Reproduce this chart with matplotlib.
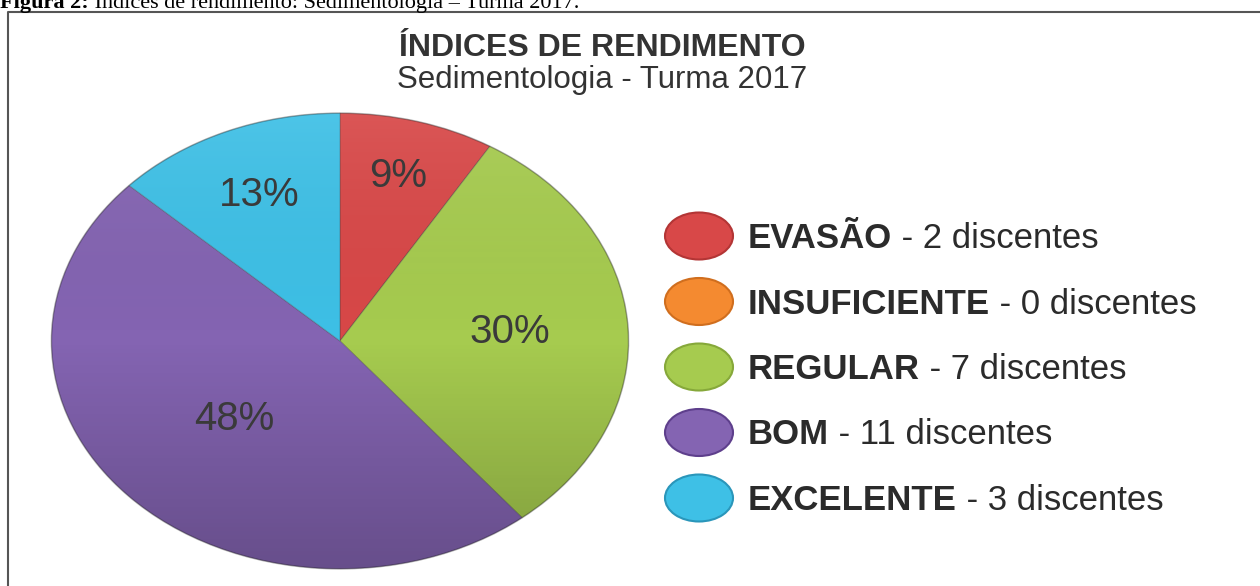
import numpy as np
import matplotlib
matplotlib.use("Agg")
from matplotlib import pyplot as plt
from matplotlib.patches import Ellipse, Circle
from matplotlib.colors import LinearSegmentedColormap

# dados
categorias = ["EVASÃO", "INSUFICIENTE", "REGULAR", "BOM", "EXCELENTE"]
discentes = [2, 0, 7, 11, 3]
cores = ["#D84848", "#F48A30", "#A6CB4F", "#8464B2", "#3EC0E6"]
bordas = ["#B33535", "#D06E1E", "#86A83A", "#5E3F8C", "#2A96BA"]

titulo = "ÍNDICES DE RENDIMENTO"
subtitulo = "Sedimentologia - Turma 2017"
figura_negrito = "Figura 2:"
figura_texto = " Índices de rendimento: Sedimentologia – Turma 2017."

plt.rcParams['font.family'] = ['Liberation Sans', 'DejaVu Sans']
W, H = 1260, 586
fig = plt.figure(figsize=(12.6, 5.86), dpi=100)

# eixo de fundo em pixels (textos, legenda, moldura)
bg = fig.add_axes([0, 0, 1, 1])
bg.set_xlim(0, W)
bg.set_ylim(H, 0)
bg.axis('off')

# pizza
ax = fig.add_axes([50 / W, 16 / H, 580 / W, 458 / H])
wedges, _, autotexts = ax.pie(
    discentes, colors=cores, startangle=90, counterclock=False, radius=1,
    autopct=lambda p: f'{p:.0f}%' if p > 0 else '', pctdistance=0.6,
    wedgeprops=dict(linewidth=0.8, edgecolor=(0.25, 0.25, 0.25, 0.3)),
    textprops=dict(fontsize=29, color='#3a3a3a'))

# distancia dos rotulos ao centro
dist_rotulo = [0.75, 0.6, 0.59, 0.50, 0.70]
for t, d in zip(autotexts, dist_rotulo):
    x, y = t.get_position()
    t.set_position((x * d / 0.6, y * d / 0.6))
    t.set_zorder(5)

# sombreado vertical
grad = np.linspace(0, 1, 256).reshape(-1, 1)
sombra = LinearSegmentedColormap.from_list('sombra', [(1, 1, 1, 0.08), (0, 0, 0, 0.0), (0, 0, 0, 0.22)])
im = ax.imshow(grad, extent=(-1, 1, -1, 1), origin='upper', cmap=sombra, aspect='auto', zorder=2)
im.set_clip_path(Circle((0, 0), 1, transform=ax.transData))
ax.add_patch(Circle((0, 0), 1, fill=False, edgecolor=(0, 0, 0, 0.18), lw=1.2, zorder=3))
ax.set_aspect('auto')
ax.set_xlim(-1.005, 1.005)
ax.set_ylim(-1.005, 1.005)

# titulos
bg.text(602, 56, titulo, ha='center', va='baseline', fontsize=23, fontweight='bold', color='#333333')
bg.text(602, 88, subtitulo, ha='center', va='baseline', fontsize=22.5, color='#333333')

# legenda
y0, passo = 236, 65.5
for i, (cat, n) in enumerate(zip(categorias, discentes)):
    y = y0 + i * passo
    bg.add_patch(Ellipse((699, y), 68, 47, facecolor=cores[i], edgecolor=bordas[i], lw=1.5))
    t = bg.text(748, y + 12, cat, fontsize=25, fontweight='bold', color='#2b2b2b', va='baseline')
    bg.annotate(f' - {n} discentes', xy=(1, 0), xycoords=t, fontsize=25, color='#2b2b2b',
                va='bottom', ha='left')

# moldura
bg.plot([8, 8, W], [H, 12, 12], color='#555555', lw=1.5)

# legenda da figura (cortada no topo, como no original)
t = bg.text(0, 8, figura_negrito, family=['Liberation Serif'], fontweight='bold', fontsize=16,
            va='baseline', color='black')
bg.annotate(figura_texto, xy=(1, 0), xycoords=t, family=['Liberation Serif'], fontsize=16,
            va='bottom', ha='left', color='black')

fig.savefig('out.png', dpi=100)
